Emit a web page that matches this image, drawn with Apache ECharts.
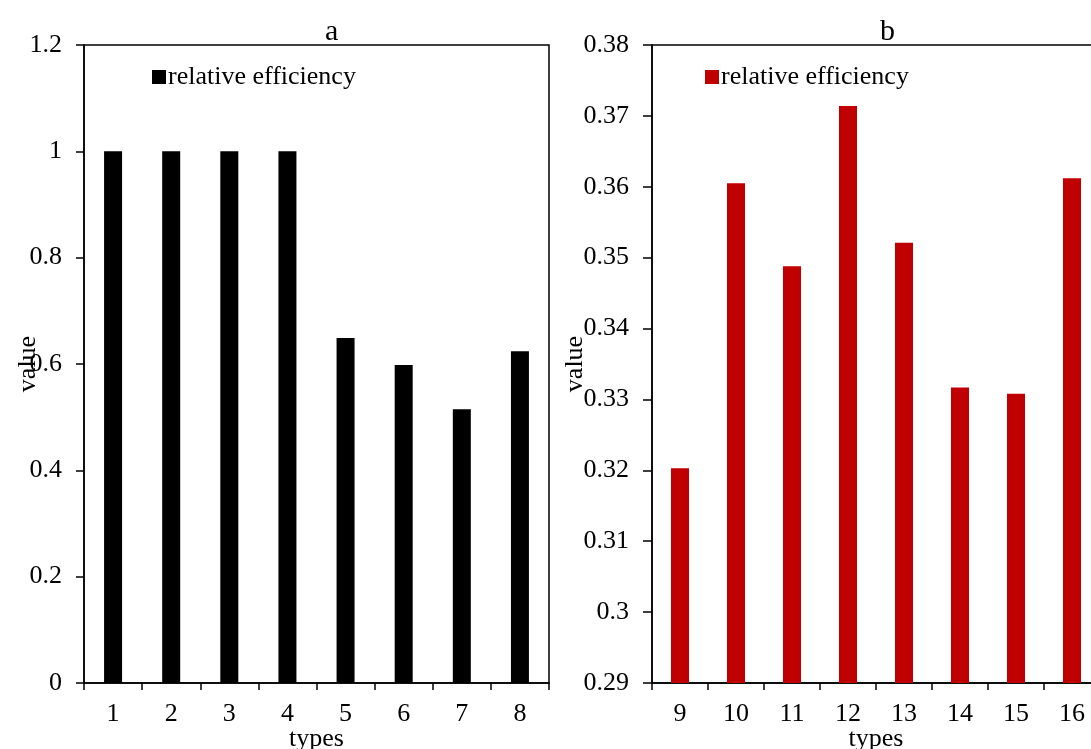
<!DOCTYPE html>
<html>
<head>
<meta charset="utf-8">
<script src="https://cdn.jsdelivr.net/npm/echarts@6/dist/echarts.min.js"></script>
<style>html,body{margin:0;padding:0;background:#fff}#c{width:1091px;height:749px}</style>
</head>
<body>
<div id="c"></div>
<script>
const categoriesA = ['1','2','3','4','5','6','7','8'];
const valuesA = [1, 1, 1, 1, 0.649, 0.598, 0.515, 0.624];
const categoriesB = ['9','10','11','12','13','14','15','16'];
const valuesB = [0.3203, 0.3605, 0.3488, 0.3714, 0.3521, 0.3317, 0.3308, 0.3612];
const titles = ['a', 'b'];
const seriesLabel = 'relative efficiency';

const FONT = '"Liberation Serif", "Times New Roman", serif';
const FS = 26;
const fmt = v => String(parseFloat(Number(v).toFixed(2)));
const axisLine = {show: true, lineStyle: {color: '#000', width: 1.5}};
const lab = {color: '#000', fontFamily: FONT, fontSize: FS};

const chart = echarts.init(document.getElementById('c'));
chart.setOption({
  animation: false,
  title: [
    {text: titles[0], left: 320, top: 12, textStyle: {fontFamily: FONT, fontSize: 30, fontWeight: 'normal', color: '#000'}},
    {text: titles[1], left: 875, top: 12, textStyle: {fontFamily: FONT, fontSize: 30, fontWeight: 'normal', color: '#000'}}
  ],
  legend: [
    {data: ['A'], left: 147, top: 59, icon: 'rect', itemWidth: 14, itemHeight: 14, itemGap: 4,
     formatter: () => seriesLabel, textStyle: {fontFamily: FONT, fontSize: FS, color: '#000', padding: [0,0,0,-3]}},
    {data: ['B'], left: 700, top: 59, icon: 'rect', itemWidth: 14, itemHeight: 14, itemGap: 4,
     formatter: () => seriesLabel, textStyle: {fontFamily: FONT, fontSize: FS, color: '#000', padding: [0,0,0,-3]}}
  ],
  grid: [
    {left: 84, top: 45, width: 465, height: 638, show: true, borderColor: '#000', borderWidth: 1.5,
     backgroundColor: 'transparent', outerBoundsMode: 'none'},
    {left: 652, top: 45, width: 448, height: 638, show: true, borderColor: '#000', borderWidth: 1.5,
     backgroundColor: 'transparent', outerBoundsMode: 'none'}
  ],
  xAxis: [
    {type: 'category', gridIndex: 0, data: categoriesA, name: 'types', nameLocation: 'middle', nameGap: 43,
     nameMoveOverlap: false,
     nameTextStyle: lab, axisLine, axisTick: {show: true, length: 7, lineStyle: {color: '#000', width: 1.5}},
     axisLabel: Object.assign({margin: 18}, lab)},
    {type: 'category', gridIndex: 1, data: categoriesB, name: 'types', nameLocation: 'middle', nameGap: 43,
     nameMoveOverlap: false,
     nameTextStyle: lab, axisLine, axisTick: {show: true, length: 7, lineStyle: {color: '#000', width: 1.5}},
     axisLabel: Object.assign({margin: 18}, lab)}
  ],
  yAxis: [
    {type: 'value', gridIndex: 0, min: 0, max: 1.2, interval: 0.2, name: 'value', nameLocation: 'middle', nameGap: 43,
     nameMoveOverlap: false,
     nameTextStyle: lab, axisLine, axisTick: {show: true, length: 8, lineStyle: {color: '#000', width: 1.5}},
     splitLine: {show: false}, axisLabel: Object.assign({margin: 22, formatter: fmt}, lab)},
    {type: 'value', gridIndex: 1, min: 0.29, max: 0.38, interval: 0.01, name: 'value', nameLocation: 'middle', nameGap: 64,
     nameMoveOverlap: false,
     nameTextStyle: lab, axisLine, axisTick: {show: true, length: 9, lineStyle: {color: '#000', width: 1.5}},
     splitLine: {show: false}, axisLabel: Object.assign({margin: 23, formatter: fmt}, lab)}
  ],
  series: [
    {name: 'A', type: 'bar', xAxisIndex: 0, yAxisIndex: 0, data: valuesA, barWidth: 18, itemStyle: {color: '#000'}},
    {name: 'B', type: 'bar', xAxisIndex: 1, yAxisIndex: 1, data: valuesB, barWidth: 18, itemStyle: {color: '#C00000'}}
  ]
});
</script>
</body>
</html>
